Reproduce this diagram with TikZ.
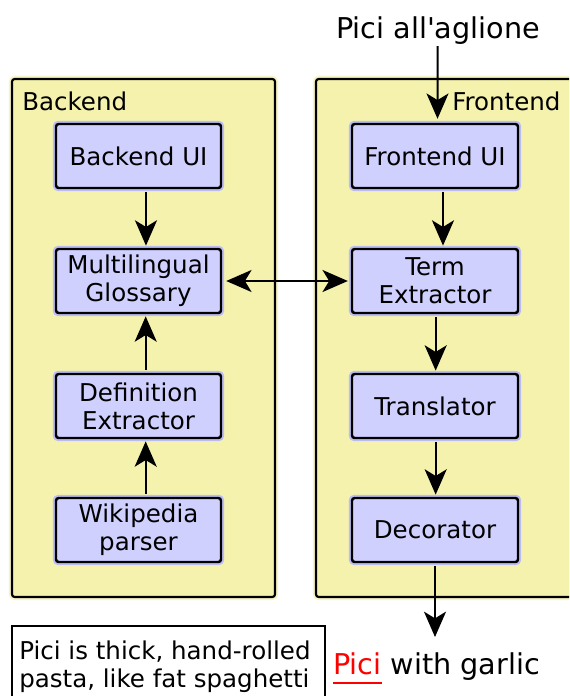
\documentclass[tikz,border=0pt]{standalone}
\usepackage{fontspec}
\setmainfont{DejaVu Sans}
\usetikzlibrary{fit,arrows.meta}
\definecolor{contfill}{HTML}{F4F2AC}
\definecolor{conthalo}{HTML}{F7F5C4}
\definecolor{boxfill}{HTML}{D0D0FF}
\definecolor{boxhalo}{HTML}{BCBCF4}
\begin{document}
\begin{tikzpicture}[x=0.75pt,y=-0.75pt,
  container/.style={fill=contfill,draw=black,line width=1.6pt,rounded corners=2pt,inner sep=0pt,
    preaction={draw=conthalo,line width=4.6pt}},
  compbox/.style={fill=boxfill,draw=black,line width=1.85pt,rounded corners=2pt,inner sep=0pt,align=center,
    font=\fontsize{18.4}{21}\selectfont,preaction={draw=boxhalo,line width=4.8pt}},
  lbl/.style={font=\fontsize{18.4}{21}\selectfont,inner sep=0pt},
  big/.style={font=\fontsize{21.5}{25}\selectfont,inner sep=0pt},
  arr/.style={-{Stealth[length=19pt,width=16.5pt,inset=5pt]},line width=1.5pt,shorten <=2.2pt,shorten >=1.6pt},
  darr/.style={{Stealth[length=19pt,width=16.5pt,inset=5pt]}-{Stealth[length=19pt,width=16.5pt,inset=5pt]},line width=1.5pt}
]
\clip (0,0) rectangle (569,696);
\useasboundingbox (0,0) rectangle (569,696);
\fill[white] (0,0) rectangle (569,696);
% containers
\node[container,fit={(12,79) (275,597)}] (backend) {};
\node[container,fit={(316,79) (590,597)}] (frontend) {};
\node[lbl,anchor=base west] (backendlbl) at (22,110) {Backend};
\node[lbl,anchor=base west] (frontendlbl) at (452,110) {Frontend};
% backend components
\node[compbox,fit={(56,124) (221,188)}] (bui) {};
\node[lbl] at (bui.center) {Backend UI};
\node[compbox,fit={(56,249) (221,313)}] (gloss) {};
\node[lbl,align=center] at (gloss.center) {Multilingual\\Glossary};
\node[compbox,fit={(56,374) (221,438)}] (defx) {};
\node[lbl,align=center] at (defx.center) {Definition\\Extractor};
\node[compbox,fit={(56,498) (221,562)}] (wiki) {};
\node[lbl,align=center] at (wiki.center) {Wikipedia\\parser};
% frontend components
\node[compbox,fit={(352,124) (518,188)}] (fui) {};
\node[lbl] at (fui.center) {Frontend UI};
\node[compbox,fit={(352,249) (518,313)}] (term) {};
\node[lbl,align=center] at (term.center) {Term\\Extractor};
\node[compbox,fit={(352,374) (518,438)}] (trans) {};
\node[lbl] at (trans.center) {Translator};
\node[compbox,fit={(352,498) (518,562)}] (deco) {};
\node[lbl] at (deco.center) {Decorator};
% texts
\node[big,anchor=base] (title) at (438,38) {Pici all\textquotesingle aglione};
\coordinate (titlefoot) at (437.5,46);
\coordinate (out) at (435,637);
\node[draw=black,line width=1.2pt,inner sep=0pt,fit={(12,626) (325,710)}] (defbox) {};
\node[lbl,anchor=base west,align=left] (deftext) at (19,659) {Pici is thick, hand-rolled};
\node[lbl,anchor=base west] (deftext2) at (19,687) {pasta, like fat spaghetti};
\node[big,anchor=base west] (result) at (333,674) {\textcolor{red}{Pici} with garlic};
\draw[red,line width=1.2pt] (333,683) -- (382,683);
% arrows
\draw[arr,shorten <=0pt,shorten >=3pt] (titlefoot) -- ([xshift=1.9pt]fui.north);
\draw[arr] ([xshift=5.6pt]bui.south) -- ([xshift=5.6pt]gloss.north);
\draw[arr] ([xshift=5.4pt]defx.north) -- ([xshift=5.4pt]gloss.south);
\draw[arr] ([xshift=5.4pt]wiki.north) -- ([xshift=5.4pt]defx.south);
\draw[arr] ([xshift=6pt]fui.south) -- ([xshift=6pt]term.north);
\draw[arr] ([xshift=0.5pt]term.south) -- ([xshift=0.5pt]trans.north);
\draw[arr] ([xshift=0.5pt]trans.south) -- ([xshift=0.5pt]deco.north);
\draw[arr,shorten >=0pt] (deco.south) -- (out);
\draw[darr,shorten <=3pt,shorten >=2.2pt] (gloss) -- (term);
\end{tikzpicture}
\end{document}
